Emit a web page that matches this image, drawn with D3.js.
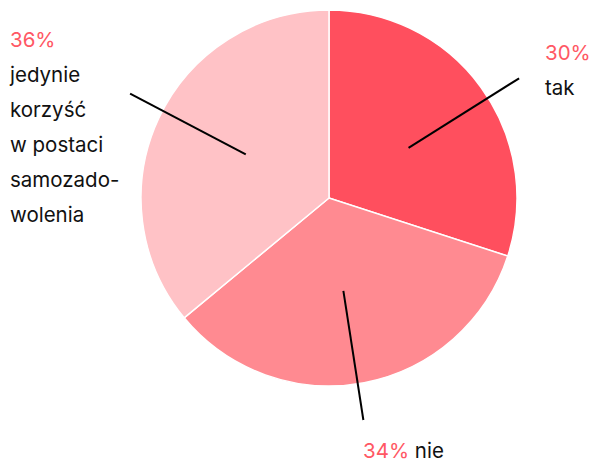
<!DOCTYPE html>
<html>
<head>
<meta charset="utf-8">
<script src="https://cdn.jsdelivr.net/npm/d3@7"></script>
<style>
  body { margin: 0; background: #fff; }
  text { font-family: Inter, "Open Sans", sans-serif; font-size: 20.5px; }
</style>
</head>
<body>
<div id="chart"></div>
<script>
// slice data
let categories = ["tak", "nie", "jedynie korzyść w postaci samozadowolenia"];
let values = [30, 34, 36];
let colors = ["#ff4f5e", "#ff8a91", "#ffc2c6"];
let labelLines = [["tak"], ["nie"], ["jedynie", "korzyść", "w postaci", "samozado-", "wolenia"]];

let width = 594, height = 465;
let cx = 329, cy = 198, radius = 188;

let svg = d3.select("#chart").append("svg")
    .attr("width", width)
    .attr("height", height);

let pie = d3.pie().sort(null).value(d => d);
let arcs = pie(values);
let arc = d3.arc().innerRadius(0).outerRadius(radius);

let g = svg.append("g").attr("transform", "translate(" + cx + "," + cy + ")");

g.selectAll("path")
    .data(arcs)
    .join("path")
    .attr("d", arc)
    .attr("fill", (d, i) => colors[i])
    .attr("stroke", "#fff")
    .attr("stroke-width", 1.5);

// leader lines: from inside the slice out past the edge
let shift = [3.8, 2, 2.5]; // degrees off the mid angle
let inner = 0.5, outer = 1.195;
g.selectAll("line")
    .data(arcs)
    .join("line")
    .each(function(d, i) {
        let a = (d.startAngle + d.endAngle) / 2 + shift[i] * Math.PI / 180;
        d3.select(this)
            .attr("x1", Math.sin(a) * radius * inner)
            .attr("y1", -Math.cos(a) * radius * inner)
            .attr("x2", Math.sin(a) * radius * outer)
            .attr("y2", -Math.cos(a) * radius * outer);
    })
    .attr("stroke", "#000")
    .attr("stroke-width", 2);

let red = "#ff5864";

// tak
svg.append("text").attr("x", 545).attr("y", 60).attr("fill", red).text(values[0] + "%");
svg.append("text").attr("x", 545).attr("y", 95).attr("fill", "#111").text(labelLines[0][0]);

// nie
let t2 = svg.append("text").attr("x", 363).attr("y", 458);
t2.append("tspan").attr("fill", red).text(values[1] + "%");
t2.append("tspan").attr("fill", "#111").text(" " + labelLines[1][0]);

// 36%
svg.append("text").attr("x", 10).attr("y", 47).attr("fill", red).text(values[2] + "%");
svg.selectAll("text.lbl")
    .data(labelLines[2])
    .join("text")
    .attr("class", "lbl")
    .attr("x", 10)
    .attr("y", (d, i) => 82 + i * 35)
    .attr("fill", "#111")
    .text(d => d);
</script>
</body>
</html>
